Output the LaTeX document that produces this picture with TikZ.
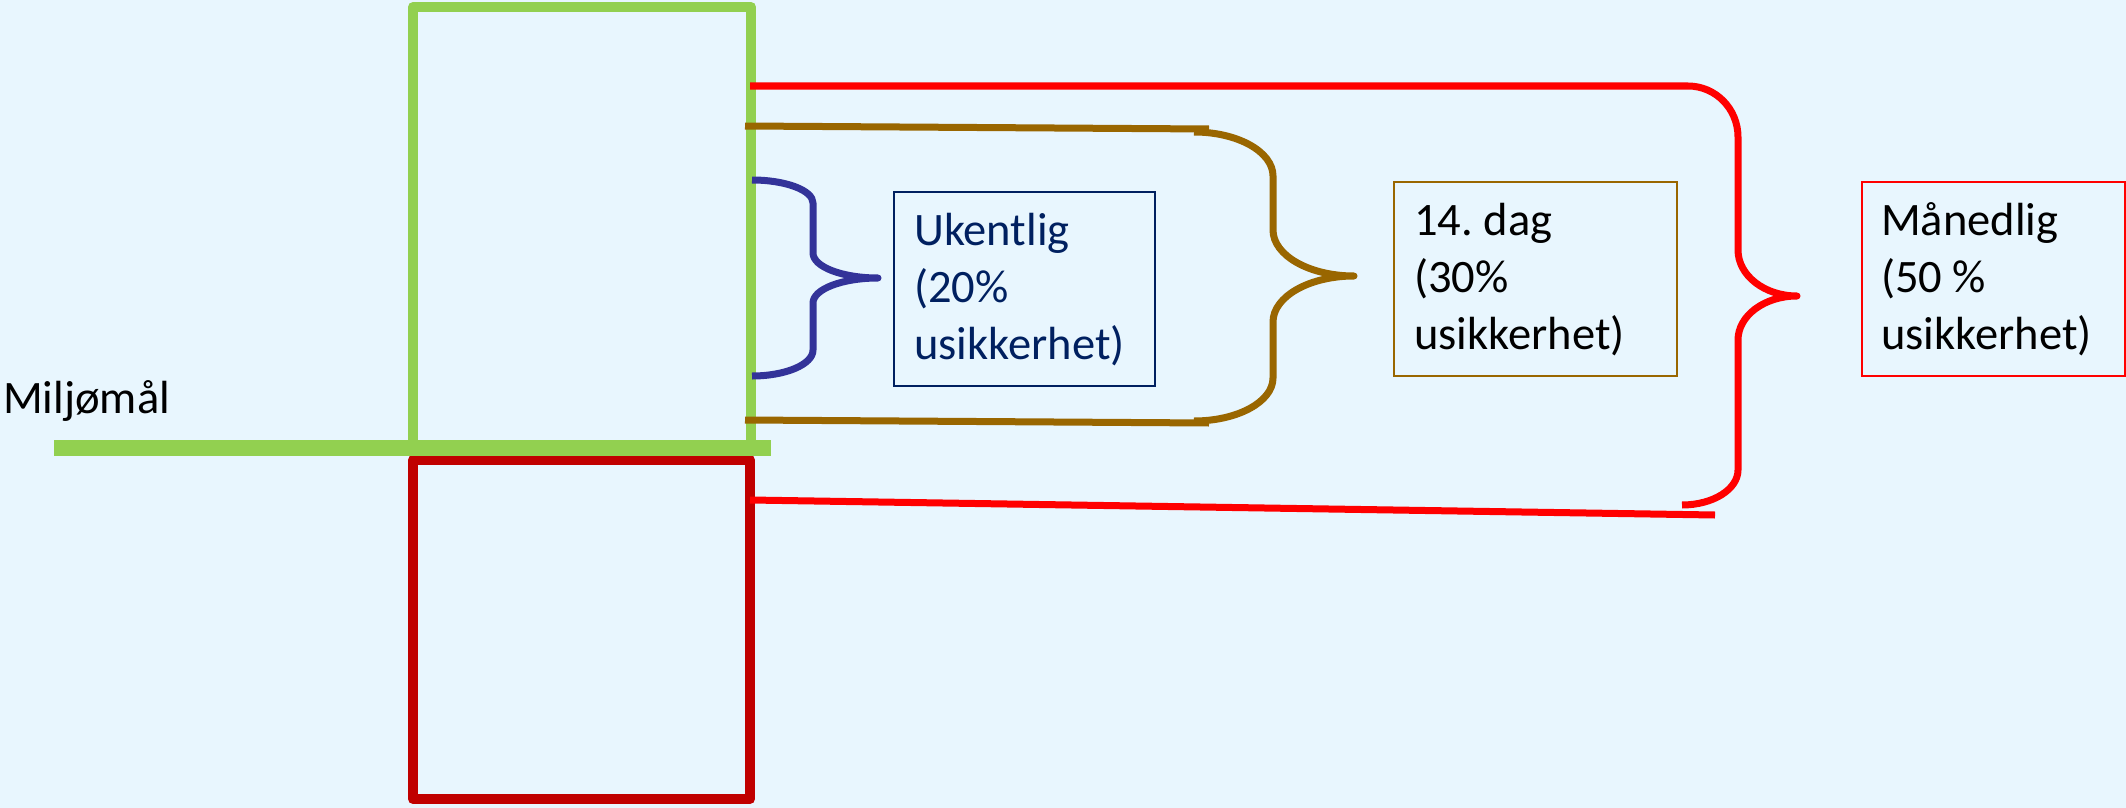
\documentclass[tikz,border=0pt]{standalone}
\usepackage{fontspec}
\setmainfont{Carlito}
\frenchspacing
\definecolor{bg}{RGB}{232,246,254}
\definecolor{grn}{RGB}{146,208,80}
\definecolor{dred}{RGB}{192,0,0}
\definecolor{brn}{RGB}{153,102,0}
\definecolor{blu}{RGB}{51,51,153}
\definecolor{navy}{RGB}{0,32,96}
\begin{document}
\begin{tikzpicture}[x=1pt,y=-1pt,
  lbl/.style={font=\fontsize{46.5}{57}\selectfont, align=left, anchor=base west, inner sep=0pt},
  tbox/.style={draw, line width=2pt, anchor=north west, inner sep=0pt, minimum height=194pt},
  bracestroke/.style={line width=7pt, line cap=butt, line join=round},
]
\fill[bg] (0,0) rectangle (2126,808);
\useasboundingbox (0,0) rectangle (2126,808);

% green (upper) box and goal line
\draw[grn, line width=10pt, line join=round] (413,448) -- (413,7) -- (751,7) -- (751,448);
\draw[dred, line width=10pt, line join=round] (413,460) rectangle (750,799);
\draw[grn, line width=16pt] (54,448) -- (771,448);

\node[lbl] (goal) at (3,413) {Miljømål};

% text boxes (base anchor = baseline of last line)
\node[tbox, draw=navy, minimum width=261pt] (wbox) at (893,191) {};
\node[lbl, text=navy] (wtxt) at (914,359) {Ukentlig\\(20\%\\usikkerhet)};

\node[tbox, draw=brn, minimum width=283pt] (dbox) at (1393,181) {};
\node[lbl] (dtxt) at (1414,349) {14. dag\\(30\%\\usikkerhet)};

\node[tbox, draw=red, minimum width=263pt] (mbox) at (1861,181) {};
\node[lbl] (mtxt) at (1881,349) {Månedlig\\(50 \%\\usikkerhet)};

% blue brace (weekly)
\draw[blu, bracestroke] (752,180) .. controls (785.7,180) and (813,190.3) .. (813,203)
  -- (813,253) .. controls (813,266.8) and (842.1,278) .. (878,278)
  .. controls (842.1,278) and (813,289.2) .. (813,303)
  -- (813,350) .. controls (813,364.4) and (785.7,376) .. (752,376);

% brown brace (14 days)
\draw[brn, bracestroke] (745,126) -- (1209,129);
\draw[brn, bracestroke] (745,420) -- (1209,423);
\draw[brn, bracestroke] (1194,132) .. controls (1237.6,132) and (1273,151.7) .. (1273,176)
  -- (1273,230) .. controls (1273,255.4) and (1309.3,276) .. (1354,276)
  .. controls (1309.3,276) and (1273,296.6) .. (1273,322)
  -- (1273,378) .. controls (1273,401.7) and (1237.6,421) .. (1194,421);

% red brace (monthly)
\draw[red, bracestroke] (750,86) -- (1688,86) .. controls (1715.6,86) and (1738,108.8) .. (1738,137)
  -- (1738,250) .. controls (1738,275.4) and (1764.4,296) .. (1797,296)
  .. controls (1764.4,296) and (1738,315.7) .. (1738,340)
  -- (1738,470) .. controls (1738,489.3) and (1712.9,505) .. (1682,505);
\draw[red, bracestroke] (750,500) -- (1715,515);
\end{tikzpicture}
\end{document}
